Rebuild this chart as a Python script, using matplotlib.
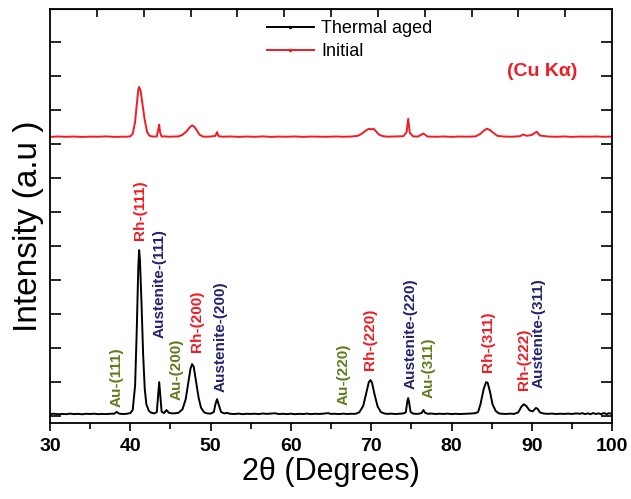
import numpy as np
import matplotlib
matplotlib.use('Agg')
import matplotlib.pyplot as plt
from matplotlib.ticker import MultipleLocator, FixedLocator, NullFormatter

plt.rcParams['font.family'] = ['Liberation Sans', 'DejaVu Sans']

# 读取自图中的数据点 (2θ, 强度)
aged_x = [30.0, 30.5, 31.0, 31.5, 32.0, 32.5, 33.0, 33.5, 34.0, 34.5, 35.0, 35.5, 36.0, 36.5,
          37.0, 37.5, 38.0, 38.3, 38.6, 39.0, 39.5, 40.0, 40.3, 40.6, 40.8, 41.0, 41.1, 41.2,
          41.4, 41.6, 41.8, 42.0, 42.3, 42.6, 43.0, 43.3, 43.5, 43.6, 43.7, 43.9, 44.2, 44.5,
          44.8, 45.2, 45.6, 46.0, 46.5, 46.9, 47.2, 47.5, 47.7, 47.9, 48.2, 48.5, 48.8, 49.2,
          49.6, 50.0, 50.4, 50.6, 50.8, 51.0, 51.3, 51.7, 52.0, 52.5, 53.0, 53.5, 54.0, 54.5,
          55.0, 55.5, 56.0, 56.5, 57.0, 57.5, 58.0, 58.5, 59.0, 59.5, 60.0, 60.5, 61.0, 61.5,
          62.0, 62.5, 63.0, 63.5, 64.0, 64.6, 65.0, 65.5, 66.0, 66.5, 67.0, 67.5, 68.0, 68.5,
          69.0, 69.4, 69.7, 69.9, 70.1, 70.4, 70.8, 71.2, 71.6, 72.0, 72.5, 73.0, 73.5, 74.0,
          74.3, 74.5, 74.6, 74.7, 74.9, 75.2, 75.6, 76.0, 76.3, 76.5, 76.7, 77.0, 77.5, 78.0,
          78.5, 79.0, 79.5, 80.0, 80.5, 81.0, 81.5, 82.0, 82.5, 83.0, 83.3, 83.6, 84.0, 84.3,
          84.5, 84.8, 85.1, 85.5, 85.9, 86.3, 86.8, 87.3, 87.8, 88.3, 88.7, 89.0, 89.3, 89.7,
          90.1, 90.5, 90.7, 91.0, 91.5, 92.0, 92.5, 93.0, 93.5, 94.0, 94.5, 95.0, 95.5, 96.0,
          96.3, 96.6, 97.0, 97.3, 97.6, 98.0, 98.3, 98.6, 99.0, 99.3, 99.6, 100.0]
aged_y = [60, 72, 55, 66, 58, 74, 60, 68, 55, 70, 62, 72, 58, 66,
          60, 70, 72, 125, 76, 62, 68, 90, 180, 900, 2500, 4400, 4880, 4600,
          3300, 1800, 800, 350, 160, 100, 80, 120, 700, 1000, 700, 130, 90, 180,
          100, 80, 85, 100, 200, 500, 950, 1400, 1530, 1450, 1000, 550, 250, 110,
          80, 75, 120, 350, 500, 350, 120, 80, 95, 68, 62, 75, 58, 70,
          64, 72, 60, 78, 66, 74, 85, 62, 70, 60, 72, 58, 68, 62,
          74, 60, 70, 64, 72, 88, 66, 70, 60, 74, 62, 70, 66, 110,
          300, 700, 1000, 1060, 980, 650, 280, 120, 80, 66, 74, 62, 70, 80,
          110, 450, 530, 420, 120, 75, 66, 72, 100, 180, 100, 70, 76, 62,
          72, 64, 74, 60, 70, 62, 68, 72, 78, 90, 120, 350, 800, 1000,
          980, 700, 350, 150, 80, 70, 64, 74, 66, 110, 280, 350, 300, 170,
          140, 240, 220, 110, 75, 68, 76, 62, 72, 66, 74, 64, 80, 70,
          88, 60, 82, 56, 90, 62, 84, 58, 92, 60, 86, 66]

initial_x = [30.0, 31.0, 32.0, 33.0, 34.0, 35.0, 36.0, 37.0, 38.0, 39.0, 39.5, 40.0, 40.3,
             40.6, 40.8, 41.0, 41.1, 41.3, 41.5, 41.8, 42.1, 42.4, 42.8, 43.3, 43.5, 43.6,
             43.7, 43.9, 44.3, 44.8, 45.5, 46.0, 46.5, 47.0, 47.4, 47.7, 48.0, 48.3, 48.6,
             49.0, 49.5, 50.0, 50.6, 50.8, 51.0, 51.5, 52.5, 53.5, 54.5, 55.5, 56.5, 57.5,
             58.5, 59.5, 60.5, 61.5, 62.5, 63.5, 64.5, 65.5, 66.5, 67.5, 68.3, 68.8, 69.3,
             69.7, 70.0, 70.3, 70.6, 71.0, 71.5, 72.0, 73.0, 74.0, 74.4, 74.6, 74.8, 75.2,
             75.8, 76.5, 77.0, 78.0, 79.0, 80.0, 81.0, 82.0, 83.0, 83.6, 84.0, 84.4, 84.8,
             85.2, 85.7, 86.5, 87.5, 88.5, 88.9, 89.4, 90.0, 90.6, 91.0, 92.0, 93.0, 94.0,
             95.0, 96.0, 97.0, 98.0, 99.0, 100.0]
initial_y = [60, 72, 62, 70, 58, 68, 64, 74, 60, 66, 65, 75, 150,
             500, 1000, 1450, 1530, 1400, 1050, 550, 200, 90, 70, 70, 300, 420,
             200, 70, 75, 65, 70, 75, 120, 220, 340, 400, 350, 250, 130,
             70, 65, 70, 90, 200, 80, 65, 72, 60, 70, 62, 74, 60,
             68, 64, 72, 60, 70, 66, 62, 72, 64, 70, 90, 150, 240,
             300, 280, 300, 220, 120, 80, 66, 72, 80, 200, 590, 180, 75,
             68, 160, 70, 64, 72, 60, 70, 66, 74, 150, 240, 300, 260,
             180, 90, 70, 64, 80, 130, 90, 120, 210, 100, 70, 64, 72,
             60, 70, 66, 72, 62, 70]
initial_offset = 8150

peak_pos = [38.3, 41.2, 43.7, 45.8, 48.3, 51.3, 66.5, 69.85, 74.95, 77.1, 84.55, 89.0, 90.8]
peak_base = [265, 5180, 2290, 470, 1880, 710, 320, 1350, 790, 530, 1290, 765, 820]
peak_labels = ['Au-(111)', 'Rh-(111)', 'Austenite-(111)', 'Au-(200)', 'Rh-(200)',
               'Austenite-(200)', 'Au-(220)', 'Rh-(220)', 'Austenite-(220)', 'Au-(311)',
               'Rh-(311)', 'Rh-(222)', 'Austenite-(311)']
phase_colors = {'Au': '#5f7d1e', 'Rh': '#ee1c24', 'Austenite': '#23236e'}

fig = plt.figure(figsize=(6.31, 4.99), dpi=100)
ax = fig.add_axes([0.0792, 0.152, 0.891, 0.830])

ax.plot(aged_x, aged_y, color='black', lw=1.4, marker='.', markersize=0,
        label='Thermal aged')
ax.plot(initial_x, np.array(initial_y) + initial_offset, color='#ee1c24', lw=1.4,
        marker='.', markersize=0, label='Initial')

for x, y, lab in zip(peak_pos, peak_base, peak_labels):
    c = phase_colors[lab.split('-')[0]]
    ax.text(x, y, lab, rotation=90, ha='center', va='bottom', color=c,
            fontsize=11, fontweight='bold')

ax.text(0.875, 0.85, '(Cu K\u03b1)', transform=ax.transAxes, color='#ee1c24',
        fontsize=14, fontweight='bold', ha='center', va='center')

ax.set_xlim(30, 100)
ax.set_ylim(-206, 11970)
ax.xaxis.set_major_locator(MultipleLocator(10))
ax.xaxis.set_minor_locator(MultipleLocator(5))
ax.yaxis.set_major_locator(MultipleLocator(1000))
ax.yaxis.set_major_formatter(NullFormatter())
ax.tick_params(axis='x', which='major', direction='out', length=6, width=1.2,
               labelsize=14, pad=5)
ax.tick_params(axis='x', which='minor', direction='out', length=4, width=1.2)
ax.tick_params(axis='y', which='major', direction='in', length=8, width=1.2,
               left=True, right=True)
for lab in ax.get_xticklabels():
    lab.set_fontweight('bold')
for s in ax.spines.values():
    s.set_linewidth(1.3)

# 顶部的刻度（无标签）
top = ax.secondary_xaxis('top')
top.xaxis.set_major_locator(FixedLocator([30 + k * 70 / 12 for k in range(1, 12)]))
top.xaxis.set_major_formatter(NullFormatter())
top.tick_params(direction='in', length=6, width=1.2)

ax.set_xlabel('2\u03b8 (Degrees)', fontsize=22, labelpad=1)
ax.set_ylabel('Intensity (a.u )', fontsize=24)
ax.yaxis.set_label_coords(-0.01, 0.475)

leg = ax.legend(loc='upper left', bbox_to_anchor=(0.37, 0.995), frameon=False,
                fontsize=13, handlelength=2.6, handletextpad=0.4,
                labelspacing=0.35, borderaxespad=0.1)
for h in leg.legend_handles:
    h.set_markersize(3)

plt.savefig('out.png', dpi=100)
